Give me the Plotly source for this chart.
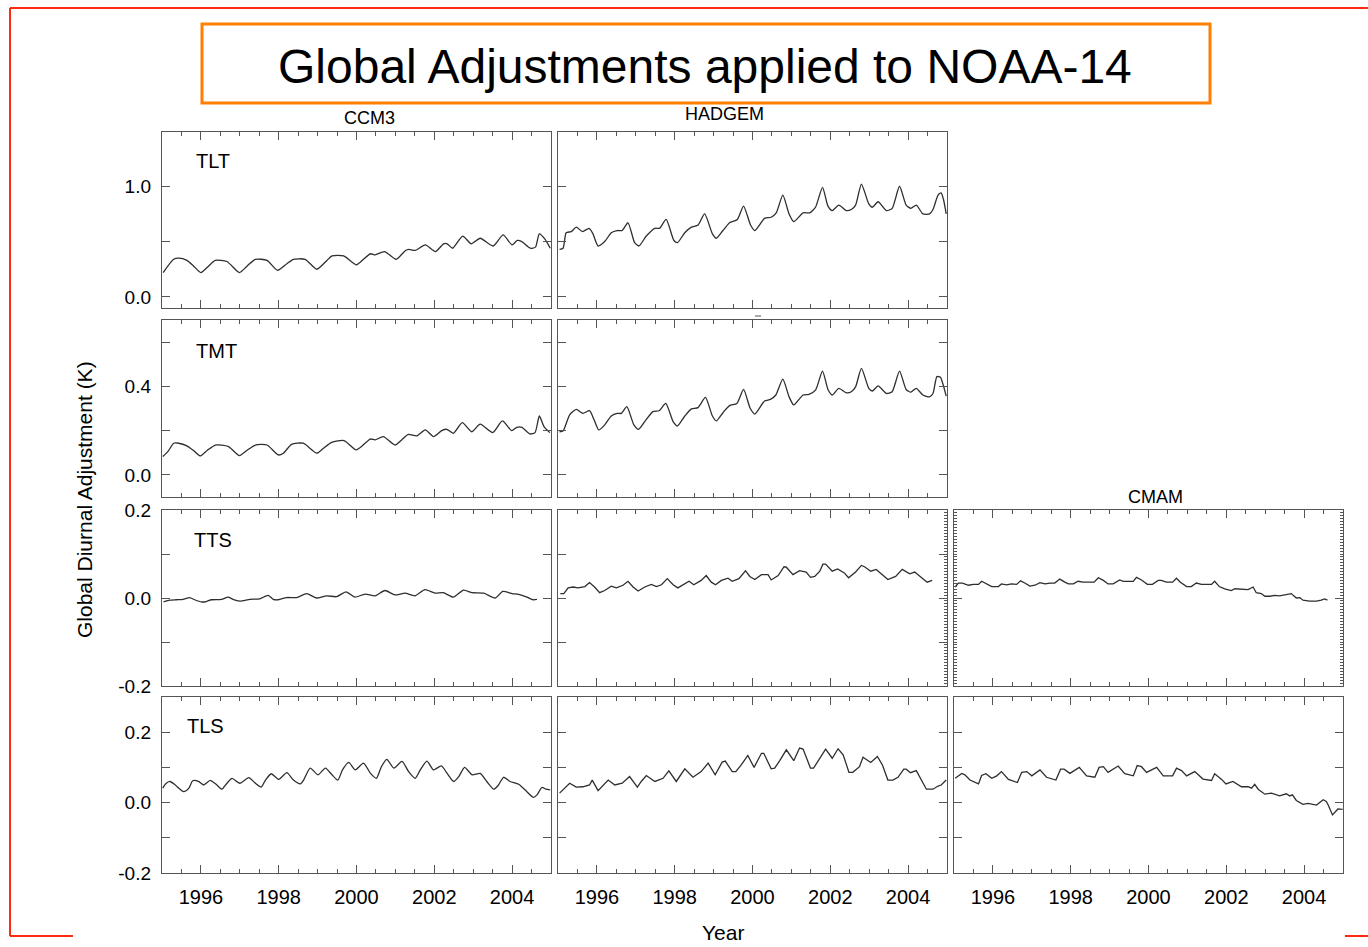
import plotly.graph_objects as go

# ---------------- data ----------------
ccm3_tlt_years = [1995.03,1995.30,1995.43,1995.64,1995.81,1996.00,1996.20,1996.37,1996.67,1996.99,1997.19,1997.40,1997.70,1997.97,1998.21,1998.38,1998.68,1998.98,1999.24,1999.37,1999.67,2000.00,2000.18,2000.36,2000.48,2000.72,2001.02,2001.26,2001.34,2001.51,2001.77,2002.03,2002.24,2002.33,2002.47,2002.73,2002.95,2003.18,2003.51,2003.77,2004.00,2004.13,2004.25,2004.47,2004.60,2004.70,2004.85,2004.98]
ccm3_tlt = [0.22,0.34,0.35,0.33,0.28,0.22,0.28,0.33,0.32,0.22,0.28,0.34,0.33,0.24,0.30,0.34,0.34,0.25,0.33,0.37,0.37,0.29,0.34,0.39,0.38,0.41,0.34,0.42,0.43,0.42,0.47,0.41,0.48,0.48,0.44,0.55,0.48,0.53,0.46,0.56,0.47,0.51,0.50,0.44,0.45,0.57,0.52,0.44]

hadgem_tlt_years = [1995.04,1995.13,1995.21,1995.34,1995.47,1995.63,1995.80,1995.90,1996.03,1996.20,1996.37,1996.52,1996.65,1996.80,1996.97,1997.08,1997.27,1997.49,1997.61,1997.78,1997.98,1998.07,1998.26,1998.43,1998.60,1998.77,1998.97,1999.07,1999.24,1999.41,1999.61,1999.77,1999.95,2000.06,2000.31,2000.48,2000.61,2000.78,2000.94,2001.06,2001.30,2001.47,2001.62,2001.80,2001.94,2002.05,2002.22,2002.41,2002.54,2002.65,2002.80,2002.99,2003.08,2003.23,2003.44,2003.59,2003.78,2003.95,2004.07,2004.21,2004.38,2004.55,2004.64,2004.77,2004.85,2004.91,2004.98]
hadgem_tlt = [0.43,0.44,0.58,0.59,0.63,0.59,0.62,0.57,0.46,0.50,0.58,0.60,0.60,0.67,0.49,0.46,0.55,0.62,0.62,0.70,0.51,0.49,0.58,0.63,0.65,0.75,0.57,0.53,0.60,0.67,0.70,0.82,0.65,0.60,0.71,0.72,0.76,0.92,0.75,0.68,0.76,0.76,0.81,0.99,0.82,0.78,0.83,0.78,0.79,0.83,1.02,0.84,0.81,0.86,0.78,0.80,1.00,0.83,0.80,0.83,0.75,0.75,0.79,0.92,0.94,0.88,0.75]

ccm3_tmt_years = [1995.02,1995.15,1995.30,1995.43,1995.64,1995.81,1995.99,1996.16,1996.37,1996.71,1996.99,1997.18,1997.40,1997.70,1997.99,1998.12,1998.33,1998.63,1998.98,1999.15,1999.36,1999.68,1999.99,2000.13,2000.35,2000.48,2000.69,2000.99,2001.16,2001.33,2001.55,2001.77,2001.98,2002.19,2002.32,2002.49,2002.72,2002.96,2003.18,2003.50,2003.75,2003.99,2004.12,2004.25,2004.46,2004.59,2004.70,2004.82,2004.97]
ccm3_tmt = [0.083,0.105,0.143,0.143,0.131,0.110,0.086,0.110,0.135,0.128,0.087,0.110,0.135,0.135,0.090,0.098,0.138,0.143,0.098,0.120,0.147,0.155,0.113,0.128,0.162,0.158,0.173,0.135,0.158,0.183,0.176,0.203,0.173,0.200,0.206,0.188,0.236,0.195,0.229,0.191,0.244,0.200,0.215,0.215,0.185,0.191,0.266,0.218,0.191]

hadgem_tmt_years = [1995.04,1995.13,1995.30,1995.47,1995.64,1995.81,1995.93,1996.05,1996.20,1996.37,1996.52,1996.63,1996.77,1996.95,1997.07,1997.23,1997.44,1997.60,1997.77,1997.96,1998.07,1998.26,1998.43,1998.60,1998.79,1998.97,1999.07,1999.24,1999.41,1999.60,1999.77,1999.94,2000.06,2000.31,2000.46,2000.60,2000.78,2000.94,2001.06,2001.30,2001.45,2001.62,2001.80,2001.94,2002.05,2002.22,2002.41,2002.54,2002.65,2002.80,2002.99,2003.08,2003.23,2003.44,2003.59,2003.78,2003.95,2004.07,2004.21,2004.38,2004.55,2004.64,2004.74,2004.83,2004.91,2004.98]
hadgem_tmt = [0.195,0.198,0.271,0.296,0.278,0.290,0.248,0.203,0.226,0.266,0.278,0.278,0.308,0.226,0.206,0.241,0.286,0.290,0.323,0.241,0.221,0.266,0.298,0.304,0.350,0.266,0.244,0.281,0.313,0.323,0.386,0.301,0.275,0.334,0.341,0.361,0.433,0.353,0.316,0.361,0.364,0.383,0.469,0.386,0.361,0.391,0.371,0.376,0.398,0.481,0.391,0.379,0.402,0.368,0.376,0.469,0.386,0.374,0.391,0.361,0.353,0.368,0.444,0.441,0.402,0.356]

ccm3_tts_years = [1995.04,1995.20,1995.37,1995.54,1995.71,1995.84,1996.01,1996.14,1996.27,1996.53,1996.70,1996.82,1997.00,1997.26,1997.51,1997.73,1997.86,1997.99,1998.20,1998.46,1998.72,1998.97,1999.23,1999.49,1999.73,1999.96,2000.22,2000.48,2000.73,2000.99,2001.25,2001.50,2001.76,2002.02,2002.23,2002.49,2002.75,2002.97,2003.27,2003.57,2003.76,2004.00,2004.17,2004.38,2004.54,2004.64]
ccm3_tts = [-0.009,-0.005,-0.004,-0.003,0.001,-0.004,-0.009,-0.008,-0.004,-0.003,0.002,-0.003,-0.007,-0.003,-0.002,0.006,-0.003,-0.004,0.001,0.001,0.010,0.000,0.005,0.003,0.014,0.002,0.009,0.005,0.017,0.007,0.011,0.005,0.019,0.011,0.012,0.002,0.018,0.012,0.011,0.000,0.015,0.010,0.008,0.002,-0.004,-0.003]

hadgem_tts_years = [1995.06,1995.15,1995.26,1995.39,1995.51,1995.69,1995.81,1995.94,1996.07,1996.20,1996.37,1996.50,1996.67,1996.80,1996.93,1997.06,1997.23,1997.40,1997.53,1997.66,1997.81,1997.96,1998.08,1998.26,1998.37,1998.49,1998.68,1998.81,1998.94,1999.05,1999.20,1999.37,1999.48,1999.65,1999.82,1999.93,2000.06,2000.23,2000.40,2000.48,2000.66,2000.81,2000.87,2001.04,2001.21,2001.38,2001.49,2001.60,2001.73,2001.81,2001.88,2002.05,2002.19,2002.36,2002.47,2002.65,2002.80,2002.88,2003.04,2003.18,2003.35,2003.48,2003.68,2003.85,2004.04,2004.17,2004.31,2004.49,2004.62]
hadgem_tts = [0.010,0.010,0.023,0.025,0.023,0.026,0.035,0.025,0.012,0.017,0.027,0.023,0.029,0.038,0.025,0.016,0.025,0.031,0.026,0.030,0.044,0.030,0.023,0.032,0.038,0.030,0.040,0.051,0.036,0.030,0.040,0.045,0.038,0.044,0.062,0.049,0.042,0.053,0.053,0.041,0.051,0.071,0.070,0.053,0.062,0.059,0.047,0.049,0.061,0.077,0.077,0.061,0.066,0.057,0.046,0.059,0.074,0.071,0.061,0.065,0.051,0.042,0.049,0.065,0.055,0.059,0.049,0.036,0.040]

cmam_tts_years = [1995.03,1995.11,1995.22,1995.37,1995.50,1995.63,1995.71,1995.84,1995.97,1996.14,1996.22,1996.35,1996.48,1996.61,1996.71,1996.82,1996.95,1997.08,1997.21,1997.34,1997.47,1997.59,1997.72,1997.85,1997.94,1998.07,1998.19,1998.32,1998.45,1998.60,1998.71,1998.84,1998.96,1999.09,1999.26,1999.35,1999.48,1999.61,1999.69,1999.82,1999.97,2000.10,2000.25,2000.33,2000.46,2000.62,2000.72,2000.82,2000.98,2001.10,2001.23,2001.36,2001.49,2001.62,2001.70,2001.82,2001.96,2002.13,2002.22,2002.39,2002.56,2002.69,2002.77,2002.90,2002.99,2003.12,2003.24,2003.37,2003.54,2003.67,2003.72,2003.80,2003.89,2003.97,2004.14,2004.32,2004.44,2004.53,2004.60]
cmam_tts = [0.025,0.034,0.034,0.029,0.031,0.031,0.038,0.032,0.026,0.026,0.032,0.030,0.032,0.031,0.039,0.034,0.027,0.029,0.035,0.032,0.034,0.034,0.043,0.036,0.032,0.032,0.038,0.036,0.036,0.036,0.046,0.040,0.032,0.032,0.041,0.038,0.038,0.038,0.047,0.041,0.031,0.031,0.040,0.040,0.036,0.036,0.045,0.036,0.026,0.026,0.034,0.031,0.031,0.031,0.038,0.026,0.021,0.017,0.021,0.020,0.019,0.025,0.012,0.010,0.004,0.004,0.006,0.005,0.008,0.010,0.006,0.000,0.001,-0.005,-0.007,-0.007,-0.005,-0.002,-0.005]

ccm3_tls_years = [1995.02,1995.09,1995.21,1995.34,1995.56,1995.69,1995.79,1995.94,1996.07,1996.24,1996.41,1996.54,1996.67,1996.80,1997.00,1997.23,1997.40,1997.55,1997.66,1997.81,1998.00,1998.21,1998.38,1998.56,1998.64,1998.81,1999.01,1999.20,1999.37,1999.52,1999.64,1999.80,1999.97,2000.18,2000.36,2000.51,2000.64,2000.78,2000.96,2001.17,2001.34,2001.51,2001.64,2001.81,2001.98,2002.18,2002.33,2002.50,2002.63,2002.78,2002.97,2003.18,2003.35,2003.53,2003.65,2003.78,2003.95,2004.17,2004.38,2004.55,2004.64,2004.77,2004.87,2004.98]
ccm3_tls = [0.041,0.053,0.060,0.050,0.031,0.041,0.062,0.060,0.050,0.063,0.050,0.038,0.055,0.069,0.055,0.071,0.055,0.044,0.064,0.082,0.066,0.085,0.064,0.053,0.064,0.098,0.079,0.098,0.079,0.064,0.093,0.114,0.093,0.112,0.083,0.069,0.102,0.123,0.098,0.117,0.088,0.069,0.093,0.118,0.093,0.104,0.083,0.060,0.074,0.100,0.079,0.083,0.060,0.038,0.050,0.072,0.060,0.052,0.031,0.015,0.022,0.043,0.038,0.036]

hadgem_tls_years = [1995.04,1995.17,1995.30,1995.47,1995.64,1995.81,1995.88,1996.03,1996.16,1996.29,1996.46,1996.65,1996.84,1997.04,1997.14,1997.27,1997.49,1997.70,1997.85,1998.04,1998.26,1998.47,1998.68,1998.86,1999.04,1999.22,1999.30,1999.48,1999.57,1999.71,1999.88,2000.04,2000.23,2000.29,2000.48,2000.57,2000.70,2000.87,2001.06,2001.21,2001.30,2001.49,2001.57,2001.71,2001.88,2002.05,2002.20,2002.33,2002.48,2002.58,2002.75,2002.84,2003.04,2003.21,2003.34,2003.48,2003.61,2003.74,2003.89,2003.95,2004.06,2004.21,2004.37,2004.47,2004.64,2004.77,2004.85,2004.98]
hadgem_tls = [0.027,0.041,0.055,0.044,0.045,0.050,0.064,0.034,0.050,0.064,0.050,0.055,0.074,0.044,0.060,0.077,0.060,0.069,0.090,0.060,0.096,0.072,0.088,0.112,0.079,0.115,0.118,0.088,0.088,0.107,0.134,0.100,0.140,0.140,0.096,0.098,0.119,0.150,0.119,0.155,0.152,0.098,0.098,0.121,0.152,0.126,0.153,0.136,0.086,0.086,0.102,0.129,0.114,0.131,0.107,0.064,0.064,0.072,0.095,0.095,0.085,0.091,0.060,0.038,0.038,0.047,0.050,0.064]

cmam_tls_years = [1995.03,1995.20,1995.28,1995.41,1995.63,1995.71,1995.82,1995.97,1996.10,1996.22,1996.40,1996.63,1996.74,1996.87,1997.00,1997.21,1997.38,1997.62,1997.74,1997.83,1997.98,1998.22,1998.41,1998.62,1998.73,1998.84,1998.96,1999.22,1999.39,1999.61,1999.71,1999.82,1999.95,2000.21,2000.38,2000.62,2000.72,2000.85,2000.98,2001.19,2001.40,2001.62,2001.70,2001.88,2001.99,2002.17,2002.39,2002.56,2002.65,2002.73,2002.82,2002.99,2003.16,2003.37,2003.54,2003.63,2003.70,2003.80,2003.97,2004.10,2004.32,2004.49,2004.57,2004.62,2004.73,2004.87,2004.99]
cmam_tls = [0.069,0.083,0.079,0.064,0.053,0.077,0.082,0.069,0.076,0.088,0.066,0.057,0.086,0.088,0.076,0.093,0.072,0.064,0.095,0.095,0.083,0.100,0.076,0.072,0.100,0.102,0.086,0.104,0.082,0.076,0.105,0.102,0.086,0.100,0.076,0.076,0.098,0.091,0.076,0.088,0.067,0.063,0.082,0.066,0.053,0.060,0.045,0.045,0.041,0.052,0.038,0.024,0.027,0.019,0.025,0.019,0.022,0.006,-0.005,-0.002,-0.007,0.008,0.003,-0.007,-0.035,-0.018,-0.019]

models = ["CCM3", "HADGEM", "CMAM"]
layers = ["TLT", "TMT", "TTS", "TLS"]
x_tick_start, x_tick_step = 1996, 2
y_ranges = [[-0.1, 1.49], [-0.1, 0.70], [-0.2, 0.2], [-0.2, 0.3]]
y_tickvals = [[0, 0.5, 1.0], [0, 0.2, 0.4, 0.6], [-0.2, -0.1, 0, 0.1, 0.2], [-0.2, -0.1, 0, 0.1, 0.2]]
y_ticktext = [["0.0", "", "1.0"], ["0.0", "", "0.4", ""], ["-0.2", "", "0.0", "", "0.2"], ["-0.2", "", "0.0", "", "0.2"]]

# (row, col, years, values, smooth)
panels = [
    (0, 0, ccm3_tlt_years, ccm3_tlt, True),
    (0, 1, hadgem_tlt_years, hadgem_tlt, True),
    (1, 0, ccm3_tmt_years, ccm3_tmt, True),
    (1, 1, hadgem_tmt_years, hadgem_tmt, True),
    (2, 0, ccm3_tts_years, ccm3_tts, True),
    (2, 1, hadgem_tts_years, hadgem_tts, False),
    (2, 2, cmam_tts_years, cmam_tts, False),
    (3, 0, ccm3_tls_years, ccm3_tls, True),
    (3, 1, hadgem_tls_years, hadgem_tls, False),
    (3, 2, cmam_tls_years, cmam_tls, False),
]

# ---------------- layout geometry (pixels) ----------------
W, H = 1368, 947
def fx(px): return px / W
def fy(py): return 1 - py / H

col_px = [(162, 551), (558, 947), (954, 1343)]
row_px = [(132, 308), (320, 497), (510, 686), (697, 873)]

FONT = "Liberation Sans, Arial, Helvetica, sans-serif"
AX = "#555555"
LINE = "#2e2e2e"

fig = go.Figure()
layout = dict(
    width=W, height=H, autosize=False,
    margin=dict(l=0, r=0, t=0, b=0, pad=0, autoexpand=False),
    paper_bgcolor="white", plot_bgcolor="rgba(0,0,0,0)", showlegend=False,
    font=dict(family=FONT, color="black"),
)

dense_dtick = 0.1 / 15
for i, (r, c, xs, ys, smooth) in enumerate(panels, start=1):
    sfx = "" if i == 1 else str(i)
    line = dict(color=LINE, width=1.3)
    if smooth:
        line.update(shape="spline", smoothing=0.6)
    fig.add_trace(go.Scatter(x=xs, y=ys, mode="lines", line=line,
                             xaxis="x" + sfx, yaxis="y" + sfx, hoverinfo="skip"))
    x0, x1 = col_px[c]
    y0, y1 = row_px[r]
    layout["xaxis" + sfx] = dict(
        domain=[fx(x0), fx(x1)], anchor="y" + sfx, range=[1995, 2005], automargin=False,
        tickmode="linear", tick0=x_tick_start, dtick=x_tick_step,
        ticks="inside", ticklen=8, tickwidth=1, tickcolor=AX,
        minor=dict(ticks="inside", dtick=0.5, tick0=1995, ticklen=4, tickcolor=AX),
        showline=True, linecolor=AX, linewidth=1.4, mirror="ticks",
        showgrid=False, zeroline=False,
        showticklabels=(r == 3), tickfont=dict(size=20, family=FONT, color="black"),
        ticklabelstandoff=6,
    )
    yax = dict(
        domain=[fy(y1), fy(y0)], anchor="x" + sfx, range=y_ranges[r], automargin=False,
        tickmode="array", tickvals=y_tickvals[r], ticktext=y_ticktext[r],
        ticks="inside", ticklen=8, tickwidth=1, tickcolor=AX,
        showline=True, linecolor=AX, linewidth=1.4, mirror="ticks",
        showgrid=False, zeroline=False,
        showticklabels=(c == 0), tickfont=dict(size=19, family=FONT, color="black"),
        ticklabelstandoff=6,
    )
    if r == 2 and c == 2:
        yax["minor"] = dict(ticks="inside", tick0=-0.2, dtick=dense_dtick, ticklen=3, tickcolor=AX)
    layout["yaxis" + sfx] = yax

# extra right-side dense ticks on the HADGEM TTS panel
layout["yaxis11"] = dict(
    overlaying="y6", anchor="x6", side="right", range=y_ranges[2], automargin=False,
    showline=False, showgrid=False, zeroline=False, showticklabels=False,
    ticks="", minor=dict(ticks="inside", tick0=-0.2, dtick=dense_dtick, ticklen=3, tickcolor=AX),
)
fig.add_trace(go.Scatter(x=[None], y=[None], xaxis="x6", yaxis="y11", mode="lines", hoverinfo="skip"))

# ---------------- texts ----------------
ann = []
def text(s, px, py, size, angle=0, xanchor="center", yanchor="middle"):
    ann.append(dict(text=s, x=fx(px), y=fy(py), xref="paper", yref="paper",
                    showarrow=False, xanchor=xanchor, yanchor=yanchor, textangle=angle,
                    font=dict(size=size, family=FONT, color="black")))

text("Global Adjustments applied to NOAA-14", 705, 66, 48)
text(models[0], 369, 118, 18)
text(models[1], 724, 114, 18)
text(models[2], 1155, 497, 18)
text(layers[0], 194, 161, 20, xanchor="left")
text(layers[1], 194, 351, 20, xanchor="left")
text(layers[2], 192, 540, 20, xanchor="left")
text(layers[3], 185, 726, 20, xanchor="left")
text("Global Diurnal Adjustment (K)", 85, 500, 21, angle=-90)
text("Year", 723, 946, 21, yanchor="bottom")
layout["annotations"] = ann

# ---------------- decorations ----------------
RED = "#FF2A12"
ORANGE = "#FF7F00"
def seg(xa, ya, xb, yb, color, width):
    return dict(type="line", xref="paper", yref="paper",
                x0=fx(xa), y0=fy(ya), x1=fx(xb), y1=fy(yb),
                line=dict(color=color, width=width))

layout["shapes"] = [
    seg(10, 8, 1368, 8, RED, 2),
    seg(10, 8, 10, 936, RED, 2),
    seg(10, 936, 73, 936, RED, 2),
    seg(1345, 936, 1368, 936, RED, 2),
    seg(755, 316, 761, 316, AX, 1),
    dict(type="rect", xref="paper", yref="paper",
         x0=fx(202), x1=fx(1210), y0=fy(103), y1=fy(24),
         line=dict(color=ORANGE, width=3), fillcolor="rgba(0,0,0,0)"),
]

fig.update_layout(**layout)
fig.write_html("out.html")
